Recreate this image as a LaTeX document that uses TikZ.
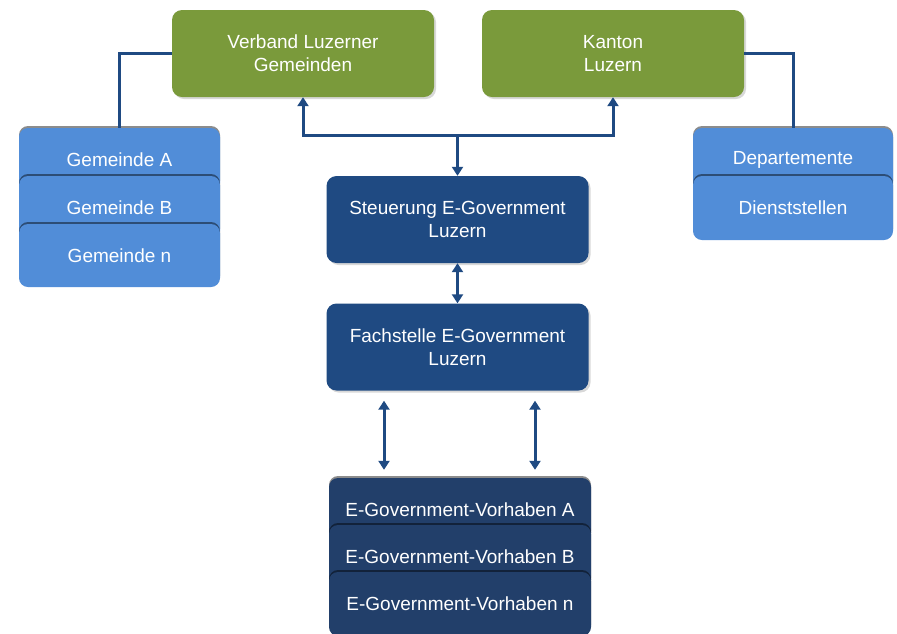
\documentclass[tikz,border=0pt]{standalone}
\usepackage{fontspec}
\setmainfont{Liberation Sans}
\usetikzlibrary{arrows.meta,shadows}
\definecolor{ggreen}{HTML}{7A9A3B}
\definecolor{lblue}{HTML}{518DD8}
\definecolor{dblue}{HTML}{1F4A82}
\definecolor{vblue}{HTML}{223F6A}
\definecolor{lineblue}{HTML}{1F4A82}
\tikzset{
  lbl/.style={text=white, font=\fontsize{19}{23}\selectfont, align=center},
  bigbox/.style={lbl, rectangle, rounded corners=10pt, minimum width=262pt, minimum height=87pt, inner sep=0pt,
     drop shadow={opacity=0.3, shadow xshift=2pt, shadow yshift=-2pt}},
  greenbox/.style={bigbox, fill=ggreen},
  darkbox/.style={bigbox, fill=dblue},
  seg/.style={lbl, rectangle, rounded corners=9pt, minimum height=64pt, inner sep=0pt,
     general shadow={fill=black, opacity=0.45, shadow xshift=0pt, shadow yshift=2pt}},
  lseg/.style={seg, fill=lblue, minimum width=201pt},
  vseg/.style={seg, fill=vblue, minimum width=262pt},
  conn/.style={draw=lineblue, line width=3pt},
  arr/.style={conn, arrows={-Triangle[width=11pt,length=9pt]}},
  darr/.style={conn, arrows={Triangle[width=11pt,length=9pt]-Triangle[width=11pt,length=9pt]}},
}
\begin{document}
\begin{tikzpicture}[x=1pt,y=-1pt]
\useasboundingbox (0,0) rectangle (897,633);
\clip (0,0) rectangle (897,633);
\fill[white] (0,0) rectangle (897,633);

% top boxes
\node[greenbox] (verband) at (303,53.5) {Verband Luzerner\\Gemeinden};
\node[greenbox] (kanton) at (613,53.5) {Kanton\\Luzern};

% central boxes
\node[darkbox] (steuerung) at (457.5,219.5) {Steuerung E-Government\\Luzern};
\node[darkbox] (fach) at (457.5,347) {Fachstelle E-Government\\Luzern};

% Gemeinde stack
\node[lseg] (gemA) at (119.5,160) {Gemeinde A};
\node[lseg] (gemB) at (119.5,208) {Gemeinde B};
\node[lseg, minimum height=63pt] (gemN) at (119.5,255.5) {Gemeinde n};

% Departemente stack
\node[lseg, minimum width=200pt] (dep) at (793,160) {Departemente};
\node[lseg, minimum width=200pt] (dienst) at (793,208) {Dienststellen};

% Vorhaben stack
\node[vseg] (vorA) at (460,510) {E-Government-Vorhaben A};
\node[vseg] (vorB) at (460,557) {E-Government-Vorhaben B};
\node[vseg] (vorN) at (460,604) {E-Government-Vorhaben n};

% connectors
\draw[conn] (verband.west) -| (gemA.north);
\draw[conn] (kanton.east) -| (dep.north);
\coordinate (hub) at (steuerung.north |- 0,135);
\draw[darr] (verband.south) |- (hub) -| (kanton.south);
\draw[arr] (hub) -- (steuerung.north);
\draw[darr] (steuerung.south) -- (fach.south |- fach.north);
\draw[darr] ([xshift=-73.5pt,yshift=-10pt]fach.south) -- ([xshift=-76pt,yshift=8pt]vorA.north);
\draw[darr] ([xshift=77.5pt,yshift=-10pt]fach.south) -- ([xshift=75pt,yshift=8pt]vorA.north);
\end{tikzpicture}
\end{document}
